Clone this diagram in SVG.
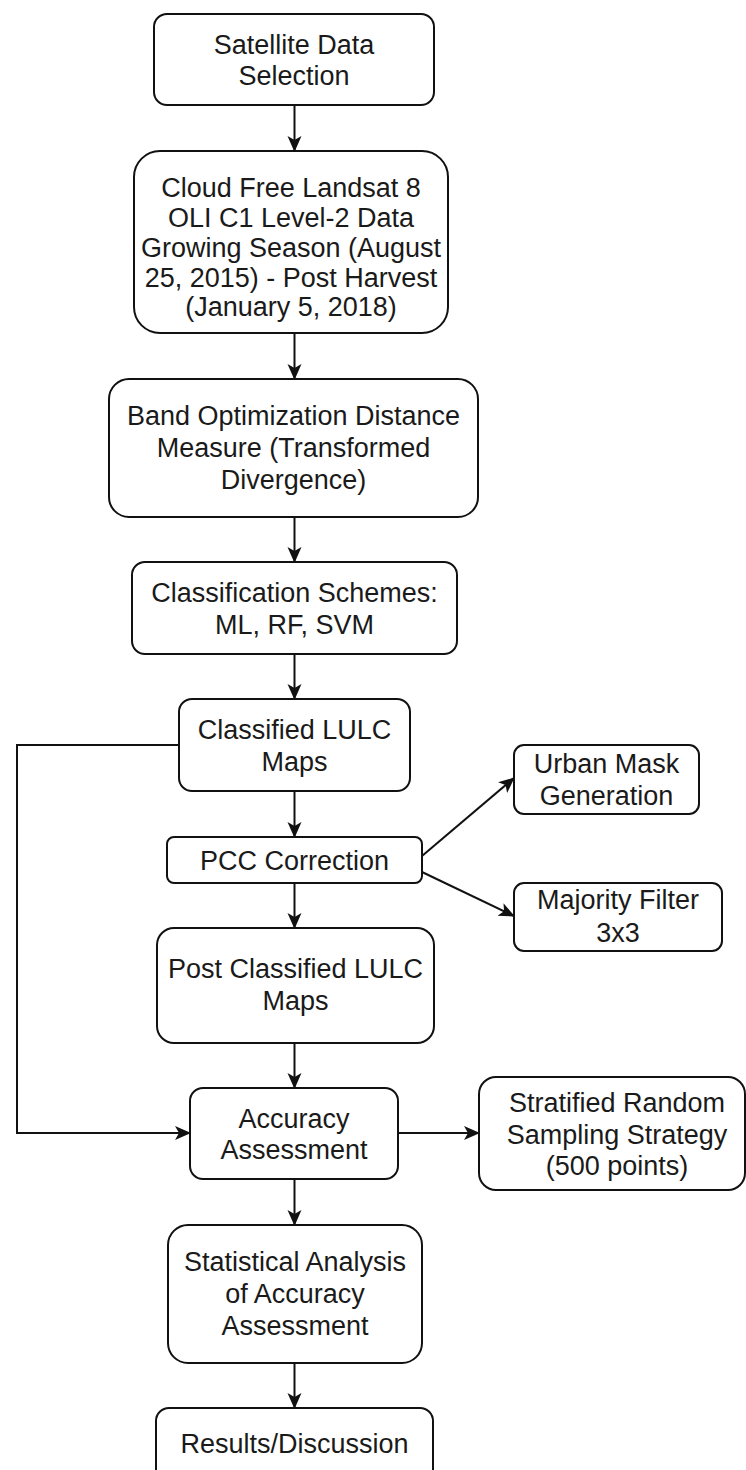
<svg xmlns="http://www.w3.org/2000/svg" width="746" height="1470" viewBox="0 0 746 1470">
<style>
.box{fill:#fff;stroke:#111;stroke-width:2}
.t{font-family:"Liberation Sans",Arial,Helvetica,sans-serif;font-size:27px;fill:#1a1a1a;text-anchor:middle}
.e{fill:none;stroke:#111;stroke-width:2}
</style>
<defs>
<marker id="arr" viewBox="0 0 16 16" refX="15" refY="8" markerWidth="16" markerHeight="16" markerUnits="userSpaceOnUse" orient="auto">
<path d="M0,1 L16,8 L0,15 L4,8 Z" fill="#111"/>
</marker>
</defs>
<rect x="0" y="0" width="746" height="1470" fill="#fff"/>
<g id="edges">
<line class="e" x1="294.5" y1="105" x2="294.5" y2="151" marker-end="url(#arr)"/>
<line class="e" x1="294.5" y1="333" x2="294.5" y2="379" marker-end="url(#arr)"/>
<line class="e" x1="294.5" y1="517" x2="294.5" y2="562" marker-end="url(#arr)"/>
<line class="e" x1="294.5" y1="654" x2="294.5" y2="699" marker-end="url(#arr)"/>
<line class="e" x1="294.5" y1="791" x2="294.5" y2="837" marker-end="url(#arr)"/>
<line class="e" x1="294.5" y1="883" x2="294.5" y2="928" marker-end="url(#arr)"/>
<line class="e" x1="294.5" y1="1043" x2="294.5" y2="1088" marker-end="url(#arr)"/>
<line class="e" x1="294.5" y1="1179" x2="294.5" y2="1225" marker-end="url(#arr)"/>
<line class="e" x1="294.5" y1="1363" x2="294.5" y2="1408" marker-end="url(#arr)"/>
<line class="e" x1="422" y1="856" x2="514" y2="778" marker-end="url(#arr)"/>
<line class="e" x1="422" y1="872" x2="514" y2="916" marker-end="url(#arr)"/>
<path class="e" d="M179,745 H17 V1133 H190" marker-end="url(#arr)"/>
<line class="e" x1="398" y1="1133" x2="479" y2="1133" marker-end="url(#arr)"/>
</g>
<g id="n1"><rect class="box" x="154" y="14" width="280" height="91" rx="13"/>
<text class="t" x="294" y="54">Satellite Data</text><text class="t" x="294" y="85">Selection</text></g>
<g id="n2"><rect class="box" x="134" y="151" width="314" height="182" rx="26"/>
<text class="t" x="291" y="197">Cloud Free Landsat 8</text>
<text class="t" x="291" y="227">OLI C1 Level-2 Data</text>
<text class="t" x="291" y="257">Growing Season (August</text>
<text class="t" x="291" y="287">25, 2015) - Post Harvest</text>
<text class="t" x="291" y="316">(January 5, 2018)</text></g>
<g id="n3"><rect class="box" x="109" y="379" width="369" height="138" rx="20"/>
<text class="t" x="293.5" y="425">Band Optimization Distance</text>
<text class="t" x="293.5" y="457">Measure (Transformed</text>
<text class="t" x="293.5" y="489">Divergence)</text></g>
<g id="n4"><rect class="box" x="132" y="562" width="325" height="92" rx="13"/>
<text class="t" x="294.5" y="602">Classification Schemes:</text>
<text class="t" x="294.5" y="634">ML, RF, SVM</text></g>
<g id="n5"><rect class="box" x="179" y="699" width="231" height="92" rx="13"/>
<text class="t" x="294.5" y="739">Classified LULC</text>
<text class="t" x="294.5" y="771">Maps</text></g>
<g id="n6"><rect class="box" x="167" y="837" width="255" height="46" rx="7"/>
<text class="t" x="294.5" y="870">PCC Correction</text></g>
<g id="n7"><rect class="box" x="514" y="745" width="185" height="69" rx="10"/>
<text class="t" x="606.5" y="773">Urban Mask</text>
<text class="t" x="606.5" y="805">Generation</text></g>
<g id="n8"><rect class="box" x="514" y="883" width="208" height="68" rx="10"/>
<text class="t" x="618" y="909">Majority Filter</text>
<text class="t" x="618" y="942">3x3</text></g>
<g id="n9"><rect class="box" x="157" y="928" width="277" height="115" rx="17"/>
<text class="t" x="295.5" y="978">Post Classified LULC</text>
<text class="t" x="295.5" y="1010">Maps</text></g>
<g id="n10"><rect class="box" x="190" y="1088" width="208" height="91" rx="13"/>
<text class="t" x="294" y="1128">Accuracy</text>
<text class="t" x="294" y="1159">Assessment</text></g>
<g id="n11"><rect class="box" x="479" y="1077" width="266" height="113" rx="17"/>
<text class="t" x="617" y="1112">Stratified Random</text>
<text class="t" x="617" y="1144">Sampling Strategy</text>
<text class="t" x="617" y="1175">(500 points)</text></g>
<g id="n12"><rect class="box" x="168" y="1225" width="254" height="138" rx="20"/>
<text class="t" x="295" y="1271">Statistical Analysis</text>
<text class="t" x="295" y="1303">of Accuracy</text>
<text class="t" x="295" y="1335">Assessment</text></g>
<g id="n13"><rect class="box" x="156" y="1408" width="277" height="92" rx="13"/>
<text class="t" x="294.5" y="1453">Results/Discussion</text></g>
</svg>
